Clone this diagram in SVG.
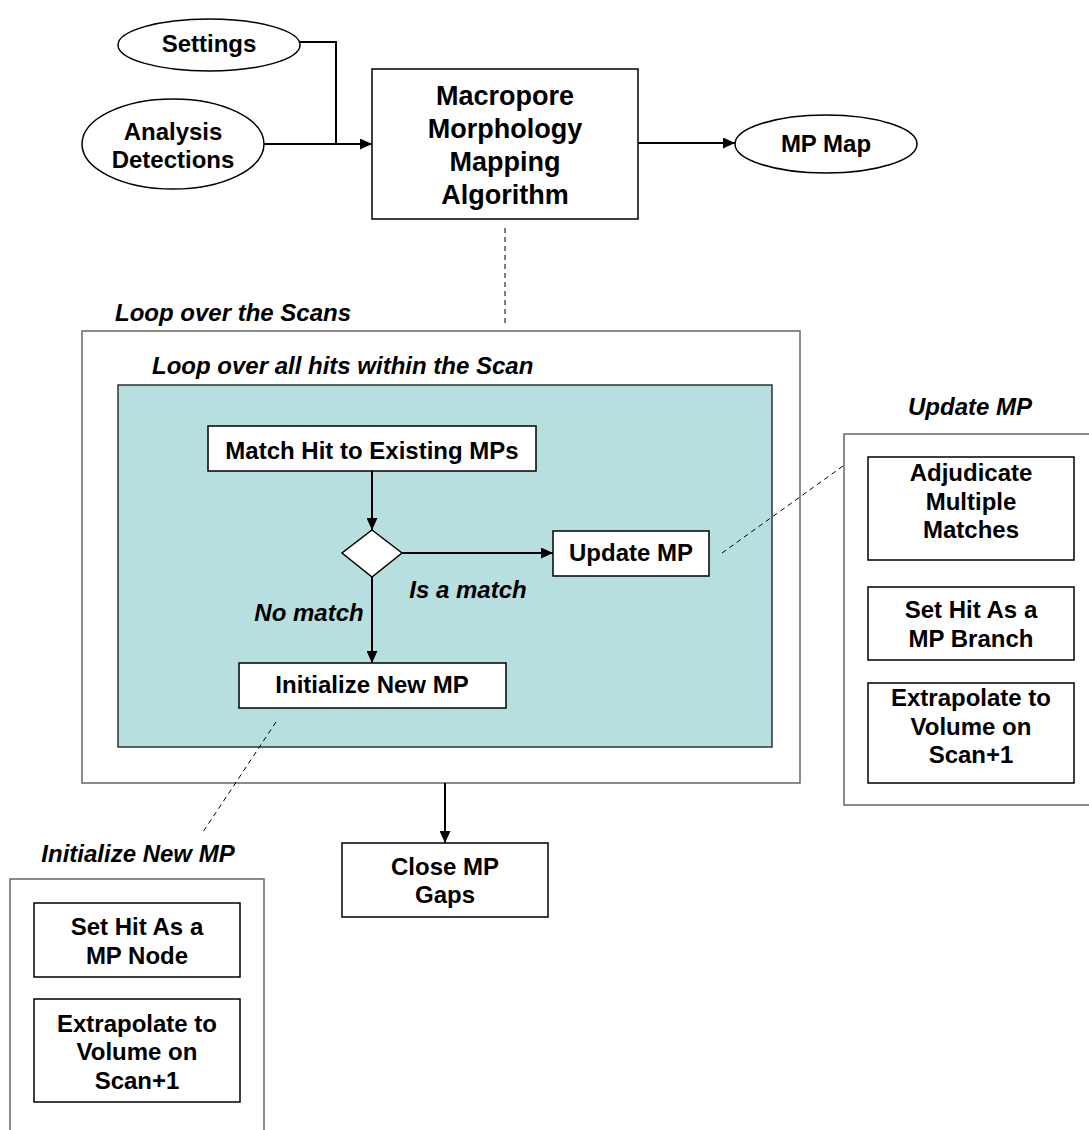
<svg xmlns="http://www.w3.org/2000/svg" width="1089" height="1130" viewBox="0 0 1089 1130">
  <defs>
    <style>
      .t { font-family: "Liberation Sans", Arial, sans-serif; font-weight: bold; font-size: 24px; fill: #000; text-anchor: middle; }
      .big { font-size: 27px; }
      .it { font-style: italic; }
      .ls { text-anchor: start; }
      .box { fill: #fff; stroke: #000; stroke-width: 1.5; }
      .frame { fill: #fff; stroke: #666; stroke-width: 1.5; }
      .teal { fill: #b8dfe0; stroke: #333; stroke-width: 1.5; }
      .wire { fill: none; stroke: #000; stroke-width: 2; }
      .dash { fill: none; stroke: #000; stroke-width: 1; stroke-dasharray: 5 4; }
    </style>
    <marker id="arrow" viewBox="0 0 12 11" refX="12" refY="5.5" markerWidth="12" markerHeight="11" markerUnits="userSpaceOnUse" orient="auto">
      <path d="M0,0 L12,5.5 L0,11 z" fill="#000"/>
    </marker>
  </defs>

  <!-- loop containers -->
  <g id="loop-scans">
    <rect class="frame" x="82" y="331" width="718" height="452"/>
    <text class="t it ls" x="115" y="321">Loop over the Scans</text>
  </g>
  <g id="loop-hits">
    <rect class="teal" x="118" y="385" width="654" height="362"/>
    <text class="t it ls" x="152" y="374">Loop over all hits within the Scan</text>
  </g>

  <!-- detail panels -->
  <g id="panel-update">
    <rect class="frame" x="844" y="434" width="260" height="371"/>
    <text class="t it" x="970" y="415">Update MP</text>
  </g>
  <g id="panel-init">
    <rect class="frame" x="10" y="879" width="254" height="270"/>
    <text class="t it" x="138" y="862">Initialize New MP</text>
  </g>

  <!-- connectors -->
  <g id="connectors">
    <polyline class="wire" points="300,42 336,42 336,144"/>
    <line class="wire" x1="264" y1="144" x2="372" y2="144" marker-end="url(#arrow)"/>
    <line class="wire" x1="638" y1="143" x2="735" y2="143" marker-end="url(#arrow)"/>
    <line class="dash" x1="505" y1="228" x2="505" y2="326"/>
    <line class="wire" x1="372" y1="471" x2="372" y2="530" marker-end="url(#arrow)"/>
    <line class="wire" x1="402" y1="553" x2="553" y2="553" marker-end="url(#arrow)"/>
    <line class="wire" x1="372" y1="577" x2="372" y2="663" marker-end="url(#arrow)"/>
    <line class="wire" x1="445" y1="783" x2="445" y2="843" marker-end="url(#arrow)"/>
    <line class="dash" x1="722" y1="553" x2="843" y2="466"/>
    <line class="dash" x1="276" y1="722" x2="203" y2="832"/>
    <text class="t it" x="468" y="598">Is a match</text>
    <text class="t it" x="309" y="621">No match</text>
  </g>

  <!-- inputs and output -->
  <g id="settings">
    <ellipse class="box" cx="209" cy="45" rx="91" ry="26"/>
    <text class="t" x="209" y="52">Settings</text>
  </g>
  <g id="analysis-detections">
    <ellipse class="box" cx="173" cy="144" rx="91" ry="45"/>
    <text class="t" x="173" y="140">Analysis</text>
    <text class="t" x="173" y="168">Detections</text>
  </g>
  <g id="algorithm">
    <rect class="box" x="372" y="69" width="266" height="150"/>
    <text class="t big" x="505" y="105">Macropore</text>
    <text class="t big" x="505" y="138">Morphology</text>
    <text class="t big" x="505" y="171">Mapping</text>
    <text class="t big" x="505" y="204">Algorithm</text>
  </g>
  <g id="mp-map">
    <ellipse class="box" cx="826" cy="144" rx="91" ry="29"/>
    <text class="t" x="826" y="152">MP Map</text>
  </g>

  <!-- per-hit flow -->
  <g id="match-hit">
    <rect class="box" x="208" y="426" width="328" height="45"/>
    <text class="t" x="372" y="459">Match Hit to Existing MPs</text>
  </g>
  <g id="decision">
    <polygon class="box" points="372,530 402,553 372,577 342,553"/>
  </g>
  <g id="update-mp">
    <rect class="box" x="553" y="531" width="156" height="45"/>
    <text class="t" x="631" y="561">Update MP</text>
  </g>
  <g id="init-mp">
    <rect class="box" x="239" y="663" width="267" height="45"/>
    <text class="t" x="372" y="693">Initialize New MP</text>
  </g>
  <g id="close-gaps">
    <rect class="box" x="342" y="843" width="206" height="74"/>
    <text class="t" x="445" y="875">Close MP</text>
    <text class="t" x="445" y="903">Gaps</text>
  </g>

  <!-- update steps -->
  <g id="adjudicate">
    <rect class="box" x="868" y="457" width="206" height="103"/>
    <text class="t" x="971" y="481">Adjudicate</text>
    <text class="t" x="971" y="510">Multiple</text>
    <text class="t" x="971" y="538">Matches</text>
  </g>
  <g id="set-branch">
    <rect class="box" x="868" y="587" width="206" height="73"/>
    <text class="t" x="971" y="618">Set Hit As a</text>
    <text class="t" x="971" y="647">MP Branch</text>
  </g>
  <g id="extrapolate-update">
    <rect class="box" x="868" y="683" width="206" height="100"/>
    <text class="t" x="971" y="706">Extrapolate to</text>
    <text class="t" x="971" y="735">Volume on</text>
    <text class="t" x="971" y="763">Scan+1</text>
  </g>

  <!-- initialize steps -->
  <g id="set-node">
    <rect class="box" x="34" y="903" width="206" height="74"/>
    <text class="t" x="137" y="935">Set Hit As a</text>
    <text class="t" x="137" y="964">MP Node</text>
  </g>
  <g id="extrapolate-init">
    <rect class="box" x="34" y="999" width="206" height="103"/>
    <text class="t" x="137" y="1032">Extrapolate to</text>
    <text class="t" x="137" y="1060">Volume on</text>
    <text class="t" x="137" y="1089">Scan+1</text>
  </g>
</svg>
